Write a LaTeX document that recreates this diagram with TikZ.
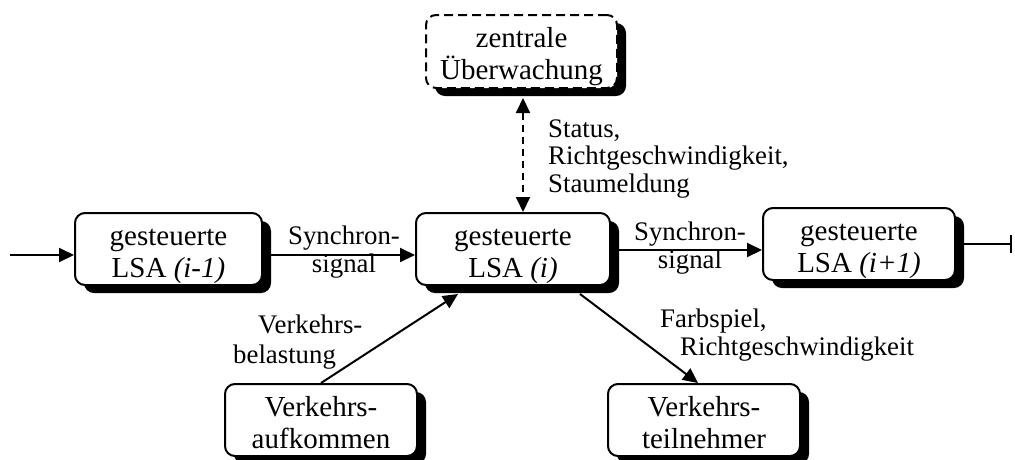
\documentclass[tikz,border=0pt]{standalone}
\usepackage{fontspec}
\setmainfont{Liberation Serif}
\usetikzlibrary{arrows.meta,shadows}
\tikzset{
  box/.style={draw, line width=2pt, rounded corners=10pt, fill=white,
    minimum width=192pt, minimum height=72pt, inner sep=0pt, align=center,
    font=\fontsize{29}{32}\selectfont, text height=64pt, text depth=8pt,
    drop shadow={shadow xshift=9pt, shadow yshift=-8pt, opacity=1, fill=black}},
  lbl/.style={inner sep=0pt, font=\fontsize{26.8}{27.5}\selectfont},
  conn/.style={line width=2pt, -{Triangle[length=15pt,width=14pt]}},
}
\begin{document}
\begin{tikzpicture}[x=1pt,y=-1pt]
\useasboundingbox (0,0) rectangle (1015,459);
\node[box, dashed, dash pattern=on 9pt off 5pt, minimum width=191pt, minimum height=73pt] (zu) at (521.5,51.5) {zentrale\\Überwachung};
\node[box, minimum width=187pt] (l1) at (168.5,249) {gesteuerte\\LSA \textit{(i-1)}};
\node[box, minimum width=194pt] (l2) at (513,249) {gesteuerte\\LSA \textit{(i)}};
\node[box] (l3) at (859,244) {gesteuerte\\LSA \textit{(i+1)}};
\node[box] (va) at (321,420) {Verkehrs-\\aufkommen};
\node[box] (vt) at (704,420) {Verkehrs-\\teilnehmer};
\coordinate (in) at (10,255);
\coordinate (out) at (1012,244);
\draw[conn] (in) -- ([yshift=-6pt]l1.west);
\draw[conn] ([yshift=-6pt]l1.east) -- ([yshift=-6pt]l2.west);
\draw[conn] ([yshift=-1pt]l2.east) -- ([yshift=-1pt]l2.east -| l3.west);
\draw[line width=2pt, -{Bar[width=18pt,line width=2pt]}] (l3.east) -- (out);
\draw[conn] (va.north) -- ([xshift=-55pt,yshift=-8pt]l2.south);
\draw[conn] ([xshift=67pt,yshift=-8pt]l2.south) -- ([xshift=-6pt]vt.north);
\draw[line width=2pt, dash pattern=on 7pt off 5pt, {Triangle[length=15pt,width=14pt]}-{Triangle[length=15pt,width=14pt]}]
  ([xshift=1.5pt,yshift=-9pt]zu.south) -- ([xshift=10pt]l2.north);
\node[lbl, anchor=base, align=center] (s1) at (344,272) {Synchron-\\signal};
\node[lbl, anchor=base, align=center] (s2) at (690,268) {Synchron-\\signal};
\node[lbl, anchor=base west, align=left] (st) at (548,192) {Status,\\Richtgeschwindigkeit,\\Staumeldung};
\node[lbl, anchor=base west, align=left] (vb) at (233,363) {\hspace*{25pt}Verkehrs-\\[2pt]belastung};
\node[lbl, anchor=base west, align=left] (fs) at (660,355) {Farbspiel,\\\hspace*{20pt}Richtgeschwindigkeit};
\end{tikzpicture}
\end{document}
